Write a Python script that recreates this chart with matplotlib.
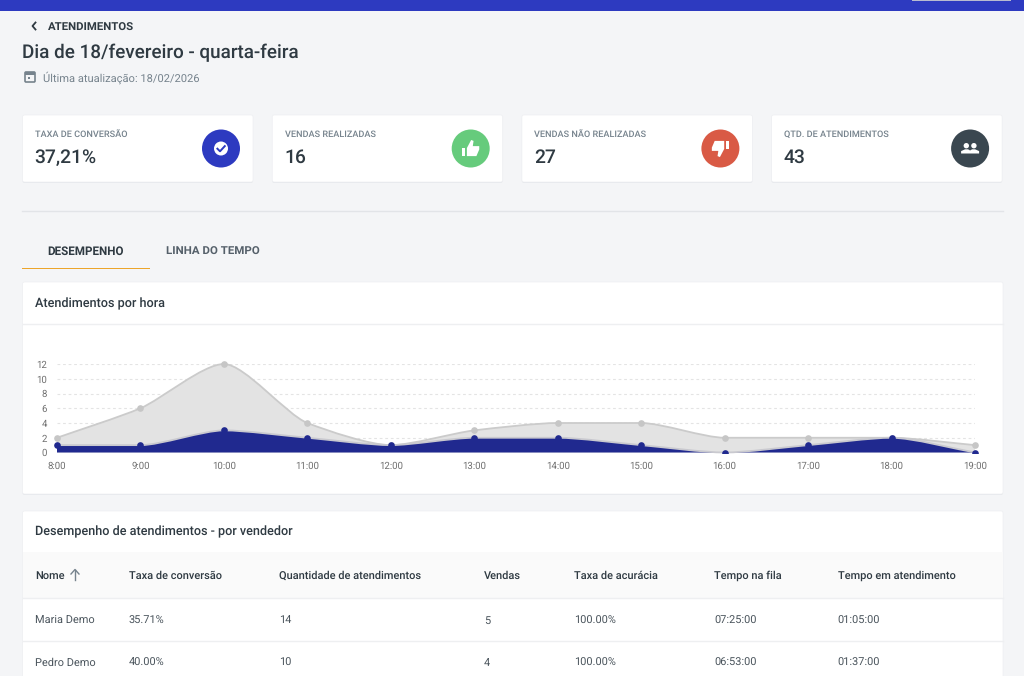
import numpy as np
import matplotlib
matplotlib.use("Agg")
import matplotlib.pyplot as plt
from matplotlib.patches import Circle, FancyBboxPatch, PathPatch, Polygon, Rectangle
from matplotlib.path import Path

plt.rcParams["font.family"] = ["Roboto", "DejaVu Sans"]
plt.rcParams["text.hinting"] = "none"
plt.rcParams["text.hinting_factor"] = 8

hours = ["8:00", "9:00", "10:00", "11:00", "12:00", "13:00",
         "14:00", "15:00", "16:00", "17:00", "18:00", "19:00"]
total_hora = [2, 6, 12, 4, 1, 3, 4, 4, 2, 2, 2, 1]
vendas_hora = [1, 1, 3, 2, 1, 2, 2, 1, 0, 1, 2, 0]
y_ticks = [0, 2, 4, 6, 8, 10, 12]

card_titles = ["TAXA DE CONVERSÃO", "VENDAS REALIZADAS",
               "VENDAS NÃO REALIZADAS", "QTD. DE ATENDIMENTOS"]
card_values = ["37,21%", "16", "27", "43"]
card_colors = ["#2d3ac0", "#66cb7c", "#d95a45", "#3a4750"]

table_cols = ["Nome", "Taxa de conversão", "Quantidade de atendimentos", "Vendas",
              "Taxa de acurácia", "Tempo na fila", "Tempo em atendimento"]
table_rows = [
    ["Maria Demo", "35.71%", "14", "5", "100.00%", "07:25:00", "01:05:00"],
    ["Pedro Demo", "40.00%", "10", "4", "100.00%", "06:53:00", "01:37:00"],
]

DARK = "#2f3a42"
MUTED = "#76838d"
BG = "#f4f5f7"
BLUE = "#20298f"
HANDLE = 0.25


def curve_path(values):
    # monotone tangents, short handles so the segments stay fairly straight
    x = np.arange(len(values), dtype=float)
    y = np.array(values, dtype=float)
    d = np.diff(y)
    m = np.zeros(len(y))
    m[0], m[-1] = d[0], d[-1]
    for i in range(1, len(y) - 1):
        m[i] = 0 if d[i - 1] * d[i] <= 0 else 2 * d[i - 1] * d[i] / (d[i - 1] + d[i])
    verts = [(x[0], y[0])]
    codes = [Path.MOVETO]
    for i in range(len(y) - 1):
        verts += [(x[i] + HANDLE, y[i] + m[i] * HANDLE),
                  (x[i + 1] - HANDLE, y[i + 1] - m[i + 1] * HANDLE),
                  (x[i + 1], y[i + 1])]
        codes += [Path.CURVE4] * 3
    return verts, codes


def area(ax, values, fill, edge, marker, z):
    verts, codes = curve_path(values)
    closed = verts + [(len(values) - 1, 0), (0, 0), (0, values[0])]
    closed_codes = codes + [Path.LINETO] * 3
    ax.add_patch(PathPatch(Path(closed, closed_codes), fc=fill, ec="none", zorder=z, clip_on=False))
    ax.add_patch(PathPatch(Path(verts, codes), fc="none", ec=edge, lw=1.3, zorder=z + 0.1, clip_on=False))
    pts, = ax.plot(range(len(values)), values, "o", ms=4.8, color=marker, mec="none", zorder=z + 0.2)
    # markers on the zero line are cut at the baseline, the outer ones are not
    pts.set_clip_path(Rectangle((-1, 0), len(values) + 1, 14, transform=ax.transData))


def card(bg, x0, y0, x1, y1):
    bg.add_patch(FancyBboxPatch((x0, y0 + 1), x1 - x0, y1 - y0, boxstyle="round,pad=0,rounding_size=2",
                                fc="#e6e8ec", ec="none", zorder=1))
    bg.add_patch(FancyBboxPatch((x0, y0), x1 - x0, y1 - y0, boxstyle="round,pad=0,rounding_size=2",
                                fc="white", ec="#eeeff2", lw=0.5, zorder=2))


def icon(bg, kind, cx, cy):
    if kind == 0:
        bg.add_patch(Circle((cx, cy), 7, fc="white", ec="none", zorder=4))
        bg.plot([cx - 3.6, cx - 1, cx + 3.8], [cy + 0.2, cy + 2.8, cy - 2.4], color=card_colors[0],
                lw=1.4, zorder=5)
    elif kind in (1, 2):
        s = 1 if kind == 1 else -1
        k = 0.95
        bar = [(-9, -0.5), (-5.8, -0.5), (-5.8, 8), (-9, 8)]
        bg.add_patch(Polygon([(cx + k * px * s, cy + k * py * s) for px, py in bar], fc="white", ec="none", zorder=4))
        pts = [(-4, 8), (-4, -0.5), (0.5, -9), (3, -8), (2.2, -2.5), (9, -2.5), (9, 1), (6, 8)]
        bg.add_patch(Polygon([(cx + k * px * s, cy + k * py * s) for px, py in pts], fc="white", ec="none", zorder=4))
    else:
        for dx in (-3.8, 3.8):
            bg.add_patch(Circle((cx + dx, cy - 2.8), 2.7, fc="white", ec="none", zorder=4))
        bg.add_patch(Polygon([(cx - 9, cy + 5), (cx - 9, cy + 2.6), (cx - 5, cy + 0.8), (cx - 2, cy + 0.8),
                              (cx, cy + 2), (cx + 2, cy + 0.8), (cx + 5, cy + 0.8), (cx + 9, cy + 2.6), (cx + 9, cy + 5)],
                             fc="white", ec="none", zorder=4))


fig = plt.figure(figsize=(10.24, 6.76), dpi=100, facecolor=BG)
bg = fig.add_axes([0, 0, 1, 1])
bg.set_xlim(0, 1024)
bg.set_ylim(676, 0)
bg.axis("off")

# top bar
bg.add_patch(Rectangle((0, 0), 1024, 11, fc="#2d3ac0", ec="none"))
bg.add_patch(Rectangle((912, 0), 99, 0.9, fc="#b9bbd0", ec="none"))

# header
bg.plot([35.5, 32.5, 35.5], [22.5, 26, 29.5], color=DARK, lw=1.3)
bg.text(47.7, 30.5, "ATENDIMENTOS", fontsize=8.2, fontweight="bold", color=DARK)
bg.text(22.5, 57.7, "Dia de 18/fevereiro - quarta-feira", fontsize=13.55, fontweight="medium", color=DARK)
bg.add_patch(FancyBboxPatch((25, 72), 10, 10, boxstyle="round,pad=0,rounding_size=1", fc="none", ec=MUTED, lw=1.2))
bg.add_patch(Rectangle((25, 72), 10, 2.5, fc=MUTED, ec="none"))
bg.add_patch(Rectangle((27.5, 76.5), 2.5, 2.5, fc=MUTED, ec="none"))
bg.text(43, 81.5, "Última atualização: 18/02/2026", fontsize=8.0, color=MUTED)

# kpi cards
for i in range(4):
    x0 = 22.5 + i * 249.7
    card(bg, x0, 115, x0 + 230.5, 182)
    bg.text(x0 + 12.5, 137.3, card_titles[i], fontsize=6.6, fontweight="medium", color=MUTED, zorder=3)
    bg.text(x0 + 12.2, 163, card_values[i], fontsize=13.9, fontweight="medium", color=DARK, zorder=3)
    cx = x0 + 198.5
    bg.add_patch(Circle((cx, 148.5), 19, fc=card_colors[i], ec="none", zorder=3))
    icon(bg, i, cx, 148.5)

bg.plot([22, 1003], [211, 211], color="#e2e4e8", lw=1)

# tabs
bg.text(86, 254.5, "DESEMPENHO", fontsize=8.4, fontweight="bold", color=DARK, ha="center")
bg.text(213, 254.5, "LINHA DO TEMPO", fontsize=8.25, fontweight="bold", color="#55606a", ha="center")
bg.add_patch(Rectangle((22, 267.5), 128, 1.7, fc="#eca52b", ec="none"))

# chart card
card(bg, 22.5, 282, 1003, 494)
bg.text(35, 307, "Atendimentos por hora", fontsize=9.1, fontweight="medium", color=DARK, zorder=3)
bg.plot([22.5, 1003], [323.5, 323.5], color="#eeeff1", lw=1, zorder=3)

# table card
card(bg, 22.5, 511, 1003, 690)
bg.text(35, 535.5, "Desempenho de atendimentos - por vendedor", fontsize=9.1, fontweight="medium",
        color=DARK, zorder=3)
bg.add_patch(Rectangle((22.5, 552), 980.5, 45.5, fc="#fafafa", ec="none", zorder=3))
bg.plot([22.5, 1003], [597.5, 597.5], color="#eeeff1", lw=1, zorder=4)
bg.plot([22.5, 1003], [640.5, 640.5], color="#eeeff1", lw=1, zorder=4)
col_x = [35, 128.7, 279, 483.7, 574, 714, 837.5]
for x, name in zip(col_x, table_cols):
    bg.text(x, 579, name, fontsize=7.9, fontweight="medium", color=DARK, zorder=5)
bg.plot([75, 75], [580, 570], color=MUTED, lw=1, zorder=5)
bg.plot([71, 75, 79], [574, 569.5, 574], color=MUTED, lw=1, zorder=5)
for row, y in zip(table_rows, [623.45, 666]):
    for x, val in zip(col_x, row):
        bg.text(x, y, val, fontsize=7.9, color="#4b555d", zorder=5)

# the chart
ax = fig.add_axes([57 / 1024, 1 - 452.5 / 676, 918 / 1024, 88.5 / 676], facecolor="none", zorder=5)
ax.set_xlim(0, len(hours) - 1)
ax.set_ylim(0, 12)
for s in ax.spines.values():
    s.set_visible(False)
ax.set_xticks(range(len(hours)), hours)
ax.set_yticks(y_ticks)
ax.tick_params(length=0, labelsize=6.9, labelcolor="#6f6f6f")
ax.tick_params(axis="x", pad=6.5)
ax.tick_params(axis="y", pad=7)
ax.grid(axis="y", color="#e4e4e4", lw=0.8, ls=(0, (2.5, 2.5)), zorder=0)
ax.set_axisbelow(True)
area(ax, total_hora, "#e3e3e3", "#cbcbcb", "#c6c6c6", 2)
area(ax, vendas_hora, BLUE, "#c9c9cf", BLUE, 3)

fig.savefig("out.png", dpi=100, facecolor=BG)
